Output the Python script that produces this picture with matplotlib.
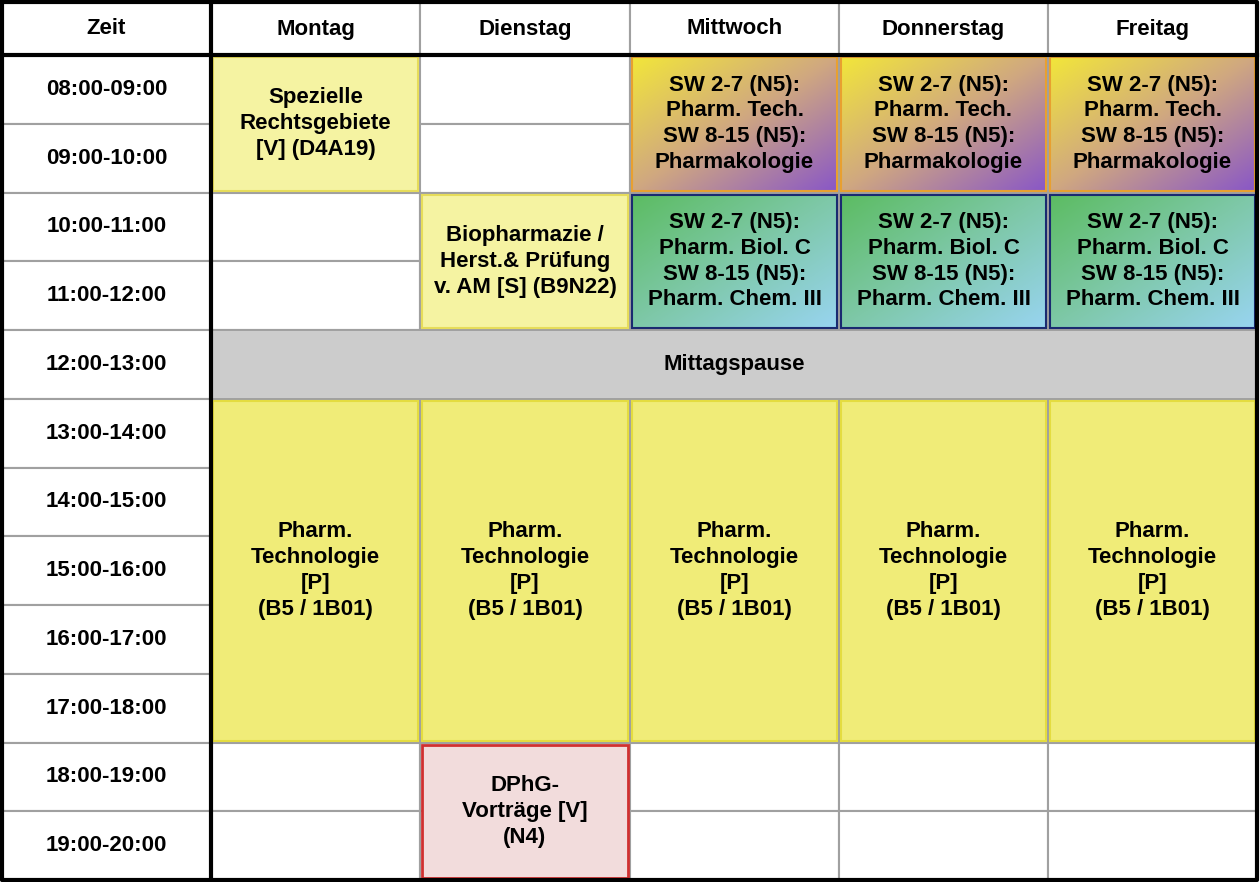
import matplotlib
matplotlib.use("Agg")
import matplotlib.pyplot as plt
from matplotlib.patches import Rectangle
from matplotlib.colors import LinearSegmentedColormap
import numpy as np

days = ["Montag", "Dienstag", "Mittwoch", "Donnerstag", "Freitag"]
times = ["08:00-09:00", "09:00-10:00", "10:00-11:00", "11:00-12:00", "12:00-13:00",
         "13:00-14:00", "14:00-15:00", "15:00-16:00", "16:00-17:00", "17:00-18:00",
         "18:00-19:00", "19:00-20:00"]

# (first day, last day, first slot, end slot, text, style)
events = [
    (0, 0, 0, 2, "Spezielle\nRechtsgebiete\n[V] (D4A19)", "pale"),
    (1, 1, 2, 4, "Biopharmazie /\nHerst.& Prüfung\nv. AM [S] (B9N22)", "pale"),
    (2, 2, 0, 2, "SW 2-7 (N5):\nPharm. Tech.\nSW 8-15 (N5):\nPharmakologie", "grad1"),
    (3, 3, 0, 2, "SW 2-7 (N5):\nPharm. Tech.\nSW 8-15 (N5):\nPharmakologie", "grad1"),
    (4, 4, 0, 2, "SW 2-7 (N5):\nPharm. Tech.\nSW 8-15 (N5):\nPharmakologie", "grad1"),
    (2, 2, 2, 4, "SW 2-7 (N5):\nPharm. Biol. C\nSW 8-15 (N5):\nPharm. Chem. III", "grad2"),
    (3, 3, 2, 4, "SW 2-7 (N5):\nPharm. Biol. C\nSW 8-15 (N5):\nPharm. Chem. III", "grad2"),
    (4, 4, 2, 4, "SW 2-7 (N5):\nPharm. Biol. C\nSW 8-15 (N5):\nPharm. Chem. III", "grad2"),
    (0, 4, 4, 5, "Mittagspause", "pause"),
    (0, 0, 5, 10, "Pharm.\nTechnologie\n[P]\n(B5 / 1B01)", "lab"),
    (1, 1, 5, 10, "Pharm.\nTechnologie\n[P]\n(B5 / 1B01)", "lab"),
    (2, 2, 5, 10, "Pharm.\nTechnologie\n[P]\n(B5 / 1B01)", "lab"),
    (3, 3, 5, 10, "Pharm.\nTechnologie\n[P]\n(B5 / 1B01)", "lab"),
    (4, 4, 5, 10, "Pharm.\nTechnologie\n[P]\n(B5 / 1B01)", "lab"),
    (1, 1, 10, 12, "DPhG-\nVorträge [V]\n(N4)", "talk"),
]

styles = {
    "pale": ("#f5f3a2", "#e6dc5a"),
    "lab": ("#f0ec78", "#e4dc40"),
    "pause": ("#cccccc", "#cccccc"),
    "talk": ("#f2dcdc", "#d03030"),
    "grad1": (["#f2e63a", "#d0a880", "#8a58c6"], "#e8a030"),
    "grad2": (["#5cbc62", "#7ec8a8", "#98d4f0"], "#1a2a70"),
}

col_x = [2, 211, 420, 630, 839, 1048, 1257]
head_y = (2, 55)
row_h = (880 - 55) / 12
row_y = [55 + row_h * i for i in range(13)]

fig = plt.figure(figsize=(12.6, 8.82), dpi=100)
ax = fig.add_axes([0, 0, 1, 1])
ax.set_xlim(0, 1260)
ax.set_ylim(882, 0)
ax.axis("off")
font = ["Liberation Sans", "DejaVu Sans"]
fs = 16

# plain grid
for c in range(6):
    for r in range(12):
        ax.add_patch(Rectangle((col_x[c], row_y[r]), col_x[c + 1] - col_x[c], row_h,
                               facecolor="white", edgecolor="#a0a0a0", lw=1.5))
for r, t in enumerate(times):
    ax.text((col_x[0] + col_x[1]) / 2, row_y[r] + row_h / 2, t, ha="center", va="center",
            fontsize=fs, fontweight="bold", family=font)
ax.text((col_x[0] + col_x[1]) / 2, 29, "Zeit", ha="center", va="center",
        fontsize=fs, fontweight="bold", family=font)
for c, d in enumerate(days):
    ax.add_patch(Rectangle((col_x[c + 1], head_y[0]), col_x[c + 2] - col_x[c + 1], 53,
                           facecolor="white", edgecolor="#a0a0a0", lw=1.5))
    ax.text((col_x[c + 1] + col_x[c + 2]) / 2, 29, d, ha="center", va="center",
            fontsize=fs, fontweight="bold", family=font)

for d0, d1, s0, s1, text, style in events:
    x0, x1 = col_x[d0 + 1] + 2, col_x[d1 + 2] - 2
    y0, y1 = row_y[s0] + 2, row_y[s1] - 2
    face, edge = styles[style]
    if isinstance(face, list):
        cmap = LinearSegmentedColormap.from_list(style, face)
        gx, gy = np.meshgrid(np.linspace(0, 1, 100), np.linspace(0, 1, 100))
        ax.imshow((gx + gy) / 2, cmap=cmap, extent=(x0, x1, y1, y0), aspect="auto", zorder=2)
        ax.add_patch(Rectangle((x0, y0), x1 - x0, y1 - y0, fill=False, edgecolor=edge,
                               lw=1.5, zorder=3))
    else:
        ax.add_patch(Rectangle((x0, y0), x1 - x0, y1 - y0, facecolor=face, edgecolor=edge,
                               lw=2 if style == "talk" else 1.5, zorder=2))
    ax.text((x0 + x1) / 2, (y0 + y1) / 2, text, ha="center", va="center", fontsize=fs,
            fontweight="bold", family=font, linespacing=1.3, zorder=4)

# heavy lines
ax.plot([col_x[0], col_x[-1], col_x[-1], col_x[0], col_x[0]], [2, 2, 880, 880, 2],
        color="black", lw=3, zorder=5, solid_capstyle="projecting")
ax.plot([col_x[0], col_x[-1]], [55, 55], color="black", lw=3, zorder=5)
ax.plot([col_x[1], col_x[1]], [2, 880], color="black", lw=3, zorder=5)

fig.savefig("out.png", dpi=100)
